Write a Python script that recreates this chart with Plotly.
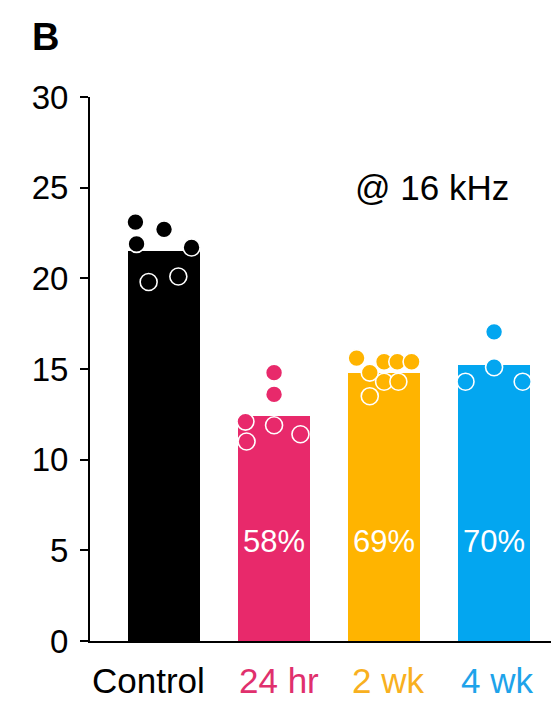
import plotly.graph_objects as go

# ---- data ----
categories = ["Control", "24 hr", "2 wk", "4 wk"]
bar_means = [21.5, 12.4, 14.8, 15.2]
pct_labels = ["", "58%", "69%", "70%"]

control_pts = [23.1, 22.7, 21.9, 21.7, 19.8, 20.1]
control_jit = [-0.26, 0.0, -0.25, 0.25, -0.14, 0.13]
hr24_pts = [14.8, 13.6, 12.1, 11.9, 11.4, 11.0]
hr24_jit = [0.0, 0.0, -0.26, 0.0, 0.24, -0.25]
wk2_pts = [15.6, 15.4, 15.4, 15.4, 14.8, 14.3, 14.3, 13.5]
wk2_jit = [-0.25, 0.0, 0.12, 0.25, -0.13, 0.0, 0.13, -0.13]
wk4_pts = [17.05, 15.1, 14.3, 14.3]
wk4_jit = [0.0, 0.0, -0.26, 0.26]

y_ticks = [0, 5, 10, 15, 20, 25, 30]

colors = ["#000000", "#e8296b", "#ffb400", "#03a6f0"]
label_colors = ["#000000", "#e0306d", "#f8b020", "#1ea3ea"]

FONT = "Liberation Sans, Arial, Helvetica, sans-serif"

fig = go.Figure()
xs = list(range(len(categories)))
fig.add_trace(go.Bar(x=xs, y=bar_means, width=0.66, marker=dict(color=colors, line=dict(width=0)),
                     showlegend=False, hoverinfo="skip"))

groups = [(control_pts, control_jit), (hr24_pts, hr24_jit), (wk2_pts, wk2_jit), (wk4_pts, wk4_jit)]
for i, (pts, jit) in enumerate(groups):
    fig.add_trace(go.Scatter(
        x=[i + j for j in jit], y=pts, mode="markers",
        marker=dict(size=17, color=colors[i], line=dict(color="white", width=1.6)),
        showlegend=False, hoverinfo="skip"))

annotations = []
for i, t in enumerate(pct_labels):
    if t:
        annotations.append(dict(x=i, y=5.5, xref="x", yref="y", text=t, showarrow=False,
                                xanchor="center", yanchor="middle",
                                font=dict(family=FONT, size=31, color="white")))
x_label_shift = [-16, 5, 4, 3]
for i, c in enumerate(categories):
    annotations.append(dict(x=i, y=0, xref="x", yref="y", text=c, showarrow=False,
                            xanchor="center", yanchor="middle", yshift=-39,
                            xshift=x_label_shift[i],
                            font=dict(family=FONT, size=35, color=label_colors[i])))
annotations.append(dict(x=0.729, y=0.833, xref="paper", yref="paper", text="@ 16 kHz",
                        xanchor="center", yanchor="middle",
                        showarrow=False, font=dict(family=FONT, size=35, color="black")))
annotations.append(dict(x=-0.094, y=1.11, xref="paper", yref="paper", text="<b>B</b>",
                        xanchor="center", yanchor="middle",
                        showarrow=False, font=dict(family=FONT, size=38, color="black")))

# page body has an 8px margin, so the figure is 8px smaller on each axis
fig.update_layout(
    width=551, height=694,
    margin=dict(l=82, r=0, t=89, b=61),
    plot_bgcolor="white", paper_bgcolor="white",
    bargap=0, annotations=annotations,
    xaxis=dict(range=[-0.673, 3.59], showticklabels=False, ticks="", showgrid=False,
               zeroline=False, showline=True, linecolor="black", linewidth=2),
    yaxis=dict(range=[0, 30], tickvals=y_ticks, ticks="outside", ticklen=8, tickwidth=2,
               tickcolor="black", showgrid=False, zeroline=False, showline=True,
               linecolor="black", linewidth=2, ticklabelstandoff=5,
               tickfont=dict(family=FONT, size=33, color="black")),
)

fig.write_html("out.html")
